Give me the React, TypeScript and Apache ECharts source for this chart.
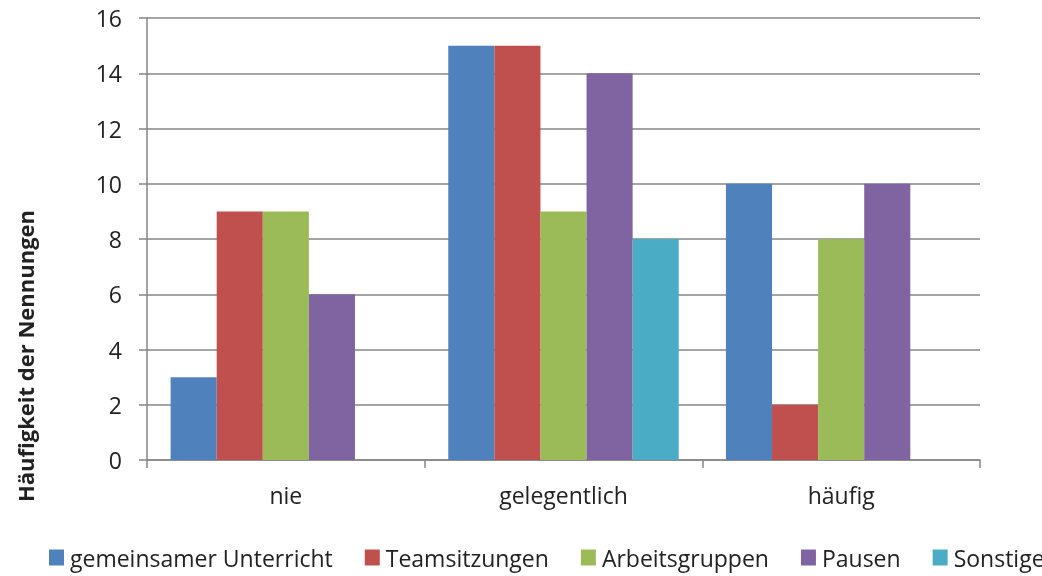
import React, { useEffect, useRef } from "react";
import * as echarts from "echarts";

const categories = ["nie", "gelegentlich", "häufig"];
const seriesNames = ["gemeinsamer Unterricht", "Teamsitzungen", "Arbeitsgruppen", "Pausen", "Sonstige"];
const gemeinsamerUnterricht = [3, 15, 10];
const teamsitzungen = [9, 15, 2];
const arbeitsgruppen = [9, 9, 8];
const pausen = [6, 14, 10];
const sonstige = [0, 8, 0];
const colors = ["#4F81BD", "#C0504D", "#9BBB59", "#8064A2", "#4BACC6"];

export default function App() {
  const ref = useRef<HTMLDivElement>(null);
  useEffect(() => {
    if (!ref.current) return;
    const chart = echarts.init(ref.current, null, { renderer: "svg" });
    const values = [gemeinsamerUnterricht, teamsitzungen, arbeitsgruppen, pausen, sonstige];
    const font = "'Open Sans', sans-serif";
    chart.setOption({
      animation: false,
      color: colors,
      textStyle: { fontFamily: font },
      grid: { left: 147, right: 62, top: 18, bottom: 116, containLabel: false },
      legend: {
        left: 49,
        top: 546,
        width: 1600,
        padding: 0,
        itemWidth: 15,
        itemHeight: 16,
        itemGap: 32,
        icon: "rect",
        textStyle: { fontSize: 23, color: "#222", fontFamily: font, padding: [0, 0, 0, 1] },
        data: seriesNames,
      },
      xAxis: {
        type: "category",
        data: categories,
        axisLine: { lineStyle: { color: "#868686", width: 1.5 } },
        axisTick: { show: true, length: 8, alignWithLabel: false, lineStyle: { color: "#868686", width: 1.5 } },
        axisLabel: { fontSize: 23, color: "#222", margin: 23, fontFamily: font },
      },
      yAxis: {
        type: "value",
        min: 0,
        max: 16,
        interval: 2,
        axisLine: { show: true, lineStyle: { color: "#868686", width: 1.5 } },
        axisTick: { show: true, length: 8, lineStyle: { color: "#868686", width: 1.5 } },
        splitLine: { lineStyle: { color: "#868686", width: 1.5 } },
        axisLabel: { fontSize: 23, color: "#222", margin: 25, fontFamily: font },
      },
      graphic: [
        {
          type: "text",
          x: 25,
          y: 356,
          rotation: Math.PI / 2,
          style: {
            text: "Häufigkeit der Nennungen",
            fontSize: 22,
            fontWeight: "bold",
            fill: "#222",
            fontFamily: font,
            align: "center",
            verticalAlign: "middle",
          },
        },
      ],
      series: seriesNames.map((name, i) => ({
        name,
        type: "bar",
        data: values[i],
        barGap: "0%",
        barCategoryGap: "17%",
        itemStyle: { color: colors[i] },
      })),
    });
    return () => chart.dispose();
  }, []);
  return <div ref={ref} style={{ position: "fixed", left: 0, top: 0, width: 1042, height: 576 }} />;
}
